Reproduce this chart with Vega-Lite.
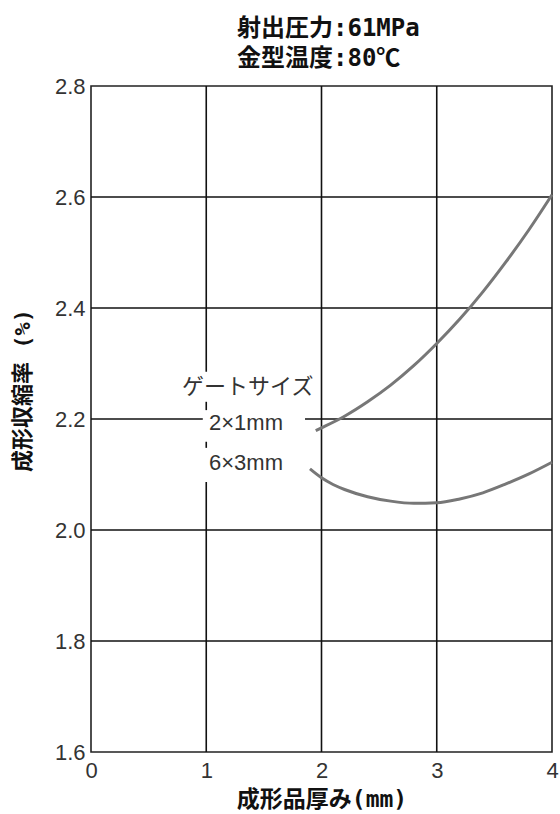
{
  "$schema": "https://vega.github.io/schema/vega-lite/v6.json",
  "width": 461,
  "height": 666,
  "autosize": {"type": "none"},
  "padding": {"left": 91, "top": 86, "right": 8, "bottom": 62},
  "background": "white",
  "title": {
    "text": ["射出圧力:61MPa", "金型温度:80℃"],
    "anchor": "start",
    "frame": "group",
    "align": "left",
    "dx": 146,
    "offset": 4,
    "fontSize": 24,
    "font": "DejaVu Sans Mono, Noto Sans CJK JP",
    "fontWeight": "bold",
    "color": "#111",
    "lineHeight": 30
  },
  "config": {
    "view": {"stroke": "#222", "strokeWidth": 1.6},
    "axis": {
      "grid": false,
      "ticks": false,
      "domain": false,
      "labelFlush": false,
      "labelFont": "Liberation Sans",
      "labelFontSize": 22,
      "labelColor": "#333",
      "titleFont": "DejaVu Sans Mono, Noto Sans CJK JP",
      "titleFontSize": 23,
      "titleFontWeight": "bold",
      "titleColor": "#111"
    }
  },
  "datasets": {
    "grid": [
      {"x": 1, "x2": 1, "y": 2.285, "y2": 2.8},
      {"x": 1, "x2": 1, "y": 2.216, "y2": 2.231},
      {"x": 1, "x2": 1, "y": 2.148, "y2": 2.159},
      {"x": 1, "x2": 1, "y": 1.6, "y2": 2.0865},
      {"x": 2, "x2": 2, "y": 1.6, "y2": 2.8},
      {"x": 3, "x2": 3, "y": 1.6, "y2": 2.8},
      {"x": 0, "x2": 4, "y": 2.6, "y2": 2.6},
      {"x": 0, "x2": 4, "y": 2.4, "y2": 2.4},
      {"x": 0, "x2": 0.97, "y": 2.2, "y2": 2.2},
      {"x": 1.857, "x2": 4, "y": 2.2, "y2": 2.2},
      {"x": 0, "x2": 4, "y": 2.0, "y2": 2.0},
      {"x": 0, "x2": 4, "y": 1.8, "y2": 1.8}
    ],
    "curves": [
      {"series": "2×1mm", "x": 1.95, "y": 2.179},
      {"series": "2×1mm", "x": 2.0, "y": 2.184},
      {"series": "2×1mm", "x": 2.2, "y": 2.205},
      {"series": "2×1mm", "x": 2.4, "y": 2.231},
      {"series": "2×1mm", "x": 2.6, "y": 2.261},
      {"series": "2×1mm", "x": 2.8, "y": 2.296},
      {"series": "2×1mm", "x": 3.0, "y": 2.336},
      {"series": "2×1mm", "x": 3.2, "y": 2.38},
      {"series": "2×1mm", "x": 3.4, "y": 2.429},
      {"series": "2×1mm", "x": 3.6, "y": 2.483},
      {"series": "2×1mm", "x": 3.8, "y": 2.541},
      {"series": "2×1mm", "x": 4.0, "y": 2.604},
      {"series": "6×3mm", "x": 1.9, "y": 2.11},
      {"series": "6×3mm", "x": 2.0, "y": 2.094},
      {"series": "6×3mm", "x": 2.1, "y": 2.082},
      {"series": "6×3mm", "x": 2.2, "y": 2.073},
      {"series": "6×3mm", "x": 2.4, "y": 2.06},
      {"series": "6×3mm", "x": 2.6, "y": 2.052},
      {"series": "6×3mm", "x": 2.8, "y": 2.048},
      {"series": "6×3mm", "x": 3.0, "y": 2.049},
      {"series": "6×3mm", "x": 3.2, "y": 2.056},
      {"series": "6×3mm", "x": 3.4, "y": 2.067},
      {"series": "6×3mm", "x": 3.6, "y": 2.083},
      {"series": "6×3mm", "x": 3.8, "y": 2.101},
      {"series": "6×3mm", "x": 4.0, "y": 2.122}
    ],
    "labels": [
      {"label": "ゲートサイズ", "x": 0.79, "y": 2.258},
      {"label": "2×1mm", "x": 1.024, "y": 2.193},
      {"label": "6×3mm", "x": 1.024, "y": 2.121}
    ]
  },
  "layer": [
    {
      "data": {"name": "grid"},
      "mark": {"type": "rule", "color": "#111", "strokeWidth": 1.6},
      "encoding": {
        "x": {
          "field": "x",
          "type": "quantitative",
          "scale": {"domain": [0, 4], "nice": false, "zero": false},
          "axis": {"values": [0, 1, 2, 3, 4], "format": "d", "labelPadding": 8, "title": "成形品厚み(mm)", "titlePadding": 7}
        },
        "x2": {"field": "x2"},
        "y": {
          "field": "y",
          "type": "quantitative",
          "scale": {"domain": [1.6, 2.8], "nice": false, "zero": false},
          "axis": {"values": [1.6, 1.8, 2.0, 2.2, 2.4, 2.6, 2.8], "format": ".1f", "labelPadding": 6, "title": "成形収縮率 (%)", "titleFontSize": 22, "titleX": -69, "titleY": 304, "titleBaseline": "middle"}
        },
        "y2": {"field": "y2"}
      }
    },
    {
      "data": {"name": "curves"},
      "mark": {"type": "line", "color": "#777", "strokeWidth": 3, "interpolate": "monotone"},
      "encoding": {
        "x": {"field": "x", "type": "quantitative"},
        "y": {"field": "y", "type": "quantitative"},
        "detail": {"field": "series"}
      }
    },
    {
      "data": {"name": "labels"},
      "mark": {"type": "text", "align": "left", "baseline": "middle", "font": "Liberation Sans, Noto Sans CJK JP", "fontSize": 22, "color": "#333"},
      "encoding": {
        "x": {"field": "x", "type": "quantitative"},
        "y": {"field": "y", "type": "quantitative"},
        "text": {"field": "label"}
      }
    }
  ]
}
